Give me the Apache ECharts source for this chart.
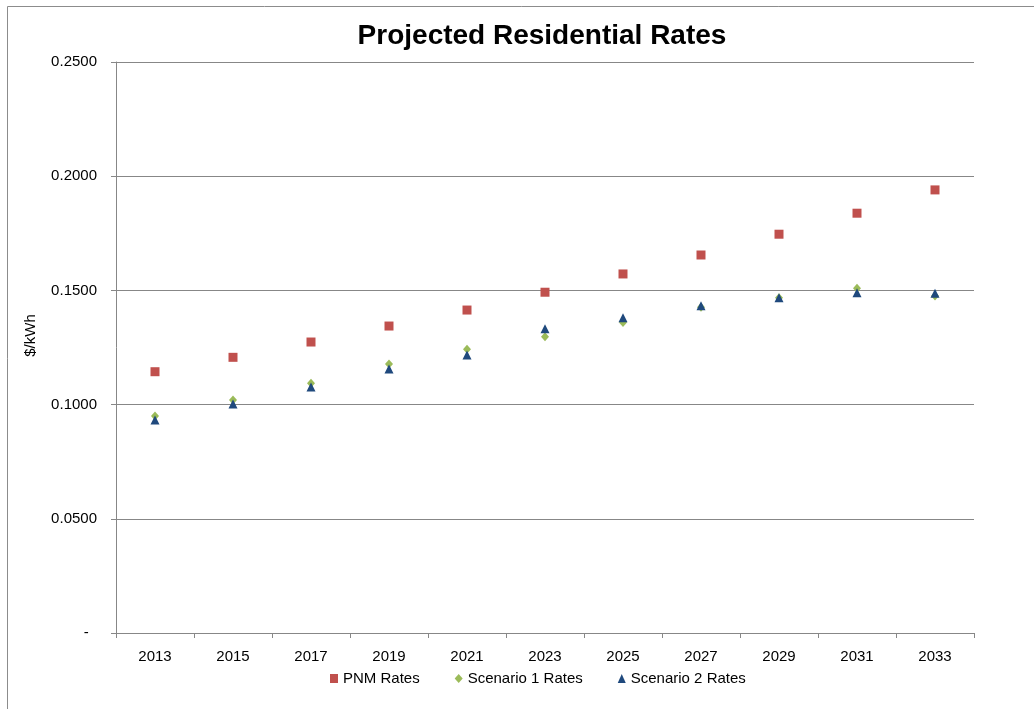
<!DOCTYPE html>
<html>
<head>
<meta charset="utf-8">
<script src="https://cdn.jsdelivr.net/npm/echarts@6/dist/echarts.min.js"></script>
<style>
  html, body { margin: 0; padding: 0; background: #fff; }
  #chart { width: 1034px; height: 709px; }
</style>
</head>
<body>
<div id="chart"></div>
<script>
// chart data
var years = ['2013', '2015', '2017', '2019', '2021', '2023', '2025', '2027', '2029', '2031', '2033']
var pnmRates = [0.1144, 0.1207, 0.1274, 0.1344, 0.1414, 0.1492, 0.1572, 0.1655, 0.1746, 0.1838, 0.1940]
var scenario1Rates = [0.0950, 0.1020, 0.1093, 0.1178, 0.1242, 0.1297, 0.1359, 0.1426, 0.1468, 0.1509, 0.1475]
var scenario2Rates = [0.0933, 0.1003, 0.1077, 0.1156, 0.1217, 0.1332, 0.1380, 0.1433, 0.1468, 0.1490, 0.1487]

var axisGray = '#878787'
var font = 'Liberation Sans, Arial, sans-serif'

var chart = echarts.init(document.getElementById('chart'))

chart.setOption({
  animation: false,
  textStyle: { fontFamily: font },
  title: {
    text: 'Projected Residential Rates',
    left: 537,
    top: 17,
    textAlign: 'center',
    textStyle: { fontFamily: font, fontSize: 28, fontWeight: 'bold', color: '#000' }
  },
  graphic: [
    {
      type: 'rect',
      silent: true,
      shape: { x: 7.5, y: 6.5, width: 1100, height: 1000 },
      style: { fill: 'none', stroke: '#8c8c8c', lineWidth: 1 }
    }
  ],
  legend: {
    left: 330,
    top: 671,
    padding: 0,
    itemWidth: 8,
    itemHeight: 9,
    itemGap: 35,
    textStyle: { fontFamily: font, fontSize: 15, color: '#000' },
    data: ['PNM Rates', 'Scenario 1 Rates', 'Scenario 2 Rates']
  },
  grid: {
    left: 116,
    right: 60,
    top: 62,
    bottom: 76
  },
  xAxis: {
    type: 'category',
    data: years,
    boundaryGap: true,
    axisLine: { lineStyle: { color: axisGray } },
    axisTick: { show: true, interval: 0, length: 5, lineStyle: { color: axisGray } },
    axisLabel: { interval: 0, margin: 16, fontSize: 15, color: '#000', fontFamily: font },
    splitLine: { show: false }
  },
  yAxis: {
    type: 'value',
    min: 0,
    max: 0.25,
    interval: 0.05,
    name: '$/kWh',
    nameLocation: 'middle',
    nameGap: 78,
    nameRotate: 90,
    nameTextStyle: { fontSize: 15, color: '#000', fontFamily: font, padding: [0, 0, 0, 24] },
    axisLine: { show: true, lineStyle: { color: axisGray } },
    axisTick: { show: true, length: 5, lineStyle: { color: axisGray } },
    axisLabel: {
      margin: 19,
      fontSize: 15,
      color: '#000',
      fontFamily: font,
      formatter: function (v) {
        return v === 0 ? '-  ' : v.toFixed(4)
      }
    },
    splitLine: { show: true, lineStyle: { color: axisGray, width: 1 } }
  },
  series: [
    {
      name: 'PNM Rates',
      type: 'scatter',
      symbol: 'rect',
      symbolSize: 9,
      itemStyle: { color: '#C0504D', opacity: 1 },
      data: pnmRates
    },
    {
      name: 'Scenario 1 Rates',
      type: 'scatter',
      symbol: 'diamond',
      symbolSize: [8, 9],
      itemStyle: { color: '#9BBB59', opacity: 1 },
      data: scenario1Rates
    },
    {
      name: 'Scenario 2 Rates',
      type: 'scatter',
      symbol: 'triangle',
      symbolSize: [9, 9],
      itemStyle: { color: '#1F497D', opacity: 1 },
      data: scenario2Rates
    }
  ]
})
</script>
</body>
</html>
